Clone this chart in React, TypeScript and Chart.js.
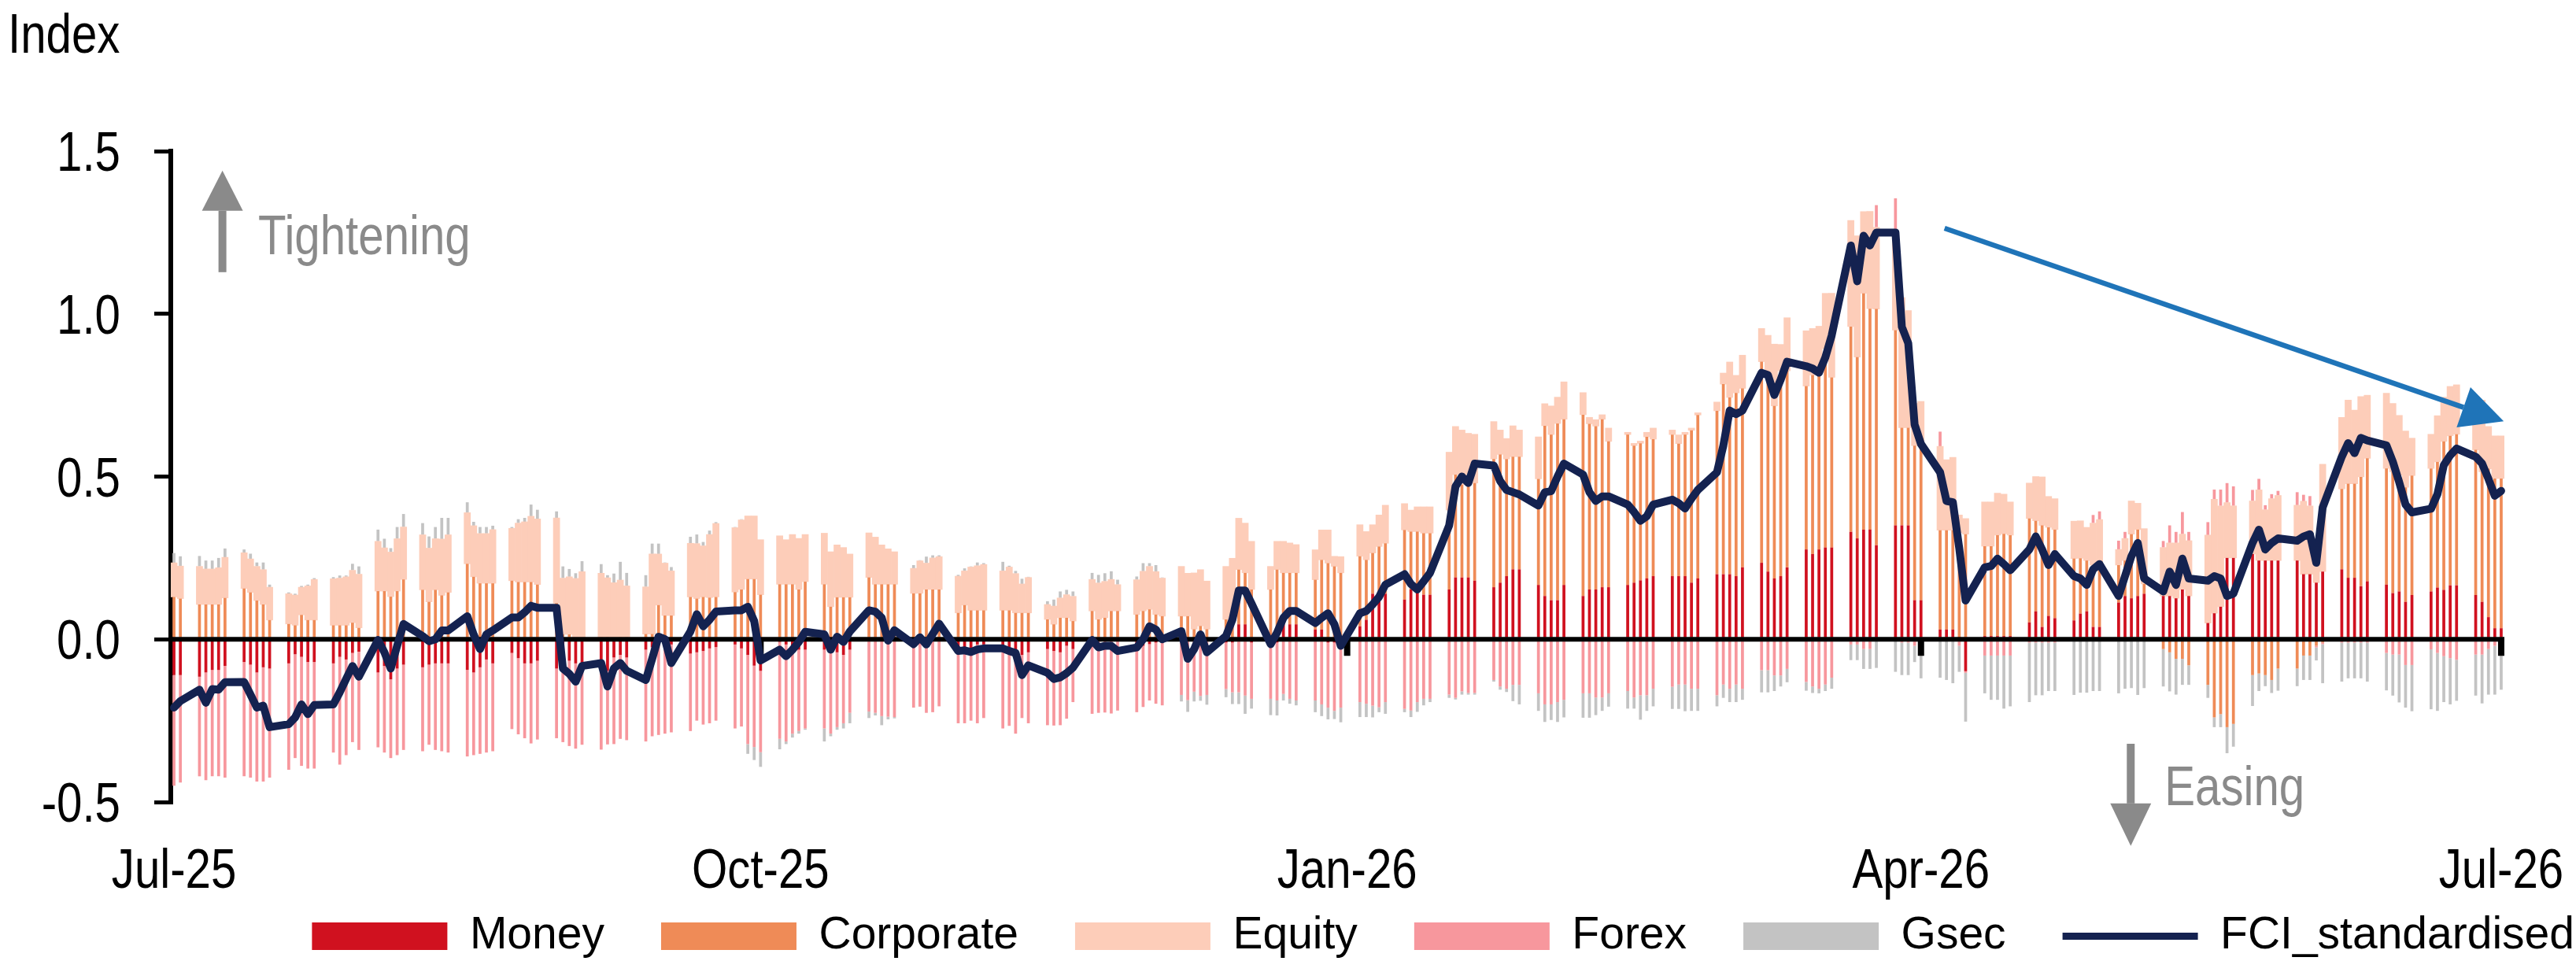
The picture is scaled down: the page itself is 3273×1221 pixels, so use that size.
import React, { useEffect, useRef } from 'react';
import { Chart, registerables } from 'chart.js';

Chart.register(...registerables);

// ---------- categories (calendar days; weekends carry no data) ----------
const START = { year: 2025, month: 6, day: 3 };
const DAY_COUNT = 366;
const TICK_DATES = ['2025-07-03', '2025-10-03', '2026-01-03', '2026-04-03', '2026-07-03'];
const TICK_LABELS = ['Jul-25', 'Oct-25', 'Jan-26', 'Apr-26', 'Jul-26'];
const Y_MIN = -0.5;
const Y_MAX = 1.5;
const Y_STEP = 0.5;

// ---------- series values, one per business day (week by week) ----------
const money = [
  -0.11, -0.11,
  -0.115, -0.102, -0.094, -0.094, -0.082,
  -0.07, -0.078, -0.102, -0.086, -0.09,
  -0.074, -0.046, -0.054, -0.07, -0.07,
  -0.074, -0.054, -0.062, -0.042, -0.038,
  -0.102, -0.082, -0.123, -0.09, -0.078,
  -0.086, -0.078, -0.074, -0.074, -0.074,
  -0.094, -0.102, -0.086, -0.062, -0.074,
  -0.042, -0.058, -0.074, -0.074, -0.066,
  -0.09, -0.074, -0.066, -0.074, -0.09,
  -0.073, -0.097, -0.056, -0.048, -0.056,
  -0.032, -0.024, -0.016, -0.016, -0.016,
  -0.044, -0.04, -0.036, -0.028, -0.024,
  -0.016, -0.028, -0.048, -0.081, -0.097,
  -0.008, -0.016, -0.024, -0.032, -0.032,
  -0.032, -0.036, -0.04, -0.048, -0.032,
  -0.004, -0.004, -0.006, -0.004, -0.005,
  -0.004, -0.005, -0.004, -0.006, -0.004,
  -0.028, -0.032, -0.032, -0.016, -0.016,
  -0.032, -0.032, -0.04, -0.048, -0.04,
  -0.03, -0.036, -0.04, -0.02, -0.03,
  -0.005, -0.006, -0.005, -0.004, -0.005,
  -0.025, -0.02, -0.015, -0.01, -0.01,
  -0.003, -0.004, -0.003, -0.004, -0.003,
  -0.01, -0.01, 0.046, 0.046, -0.01,
  -0.01, -0.01, 0.046, 0.046, 0.046,
  0.03, 0.03, -0.01, -0.01, -0.01,
  0.04, 0.06, 0.14, 0.14, 0.14,
  0.122, 0.153, 0.148, 0.137, 0.137,
  0.153, 0.19, 0.19, 0.19, 0.18,
  0.16, 0.174, 0.194, 0.215, 0.215,
  0.167, 0.133, 0.12, 0.12, 0.167,
  0.133, 0.153, 0.153, 0.16, 0.16,
  0.167, 0.174, 0.181, 0.187, 0.194,
  0.194, 0.194, 0.194, 0.174, 0.187,
  0.2, 0.2, 0.2, 0.194, 0.221,
  0.235, 0.208, 0.187, 0.194, 0.221,
  0.276, 0.262, 0.276, 0.282, 0.282,
  0.33, 0.31, 0.337, 0.337, 0.289,
  0.35, 0.35, 0.35, 0.12, 0.12,
  0.03, 0.03, 0.03, 0.005, -0.098,
  0.01, 0.01, 0.01, 0.01, 0.01,
  0.052, 0.086, 0.038, 0.072, 0.065,
  0.058, 0.079, 0.086, 0.038, 0.038,
  0.113, 0.133, 0.126, 0.133, 0.14,
  0.133, 0.133, 0.126, 0.153, 0.133,
  0.05, 0.08, 0.1, 0.25, 0.25,
  0.262, 0.242, 0.242, 0.242, 0.242,
  0.242, 0.2, 0.2, 0.174, 0.208,
  0.215, 0.189, 0.189, 0.163, 0.178,
  0.168, 0.142, 0.147, 0.115, 0.136,
  0.147, 0.159, 0.152, 0.166, 0.166,
  0.136, 0.115, 0.068, 0.034, 0.034,
];

const corporate = [
  0.13, 0.125,
  0.107, 0.107, 0.107, 0.107, 0.127,
  0.156, 0.144, 0.119, 0.107, 0.059,
  0.047, 0.043, 0.075, 0.059, 0.059,
  0.043, 0.043, 0.043, 0.051, 0.035,
  0.148, 0.148, 0.131, 0.148, 0.184,
  0.152, 0.115, 0.152, 0.135, 0.144,
  0.232, 0.192, 0.172, 0.172, 0.172,
  0.18, 0.176, 0.176, 0.176, 0.168,
  0.111, 0.015, 0.015, 0.006, 0.006,
  0.005, 0.004, 0.006, 0.005, 0.004,
  0.016, 0.016, 0.105, 0.073, 0.073,
  0.13, 0.125, 0.13, 0.128, 0.13,
  0.145, 0.153, 0.185, 0.185, 0.137,
  0.169, 0.169, 0.169, 0.153, 0.177,
  0.169, 0.1, 0.129, 0.129, 0.129,
  0.19, 0.169, 0.169, 0.169, 0.169,
  0.141, 0.141, 0.153, 0.153, 0.153,
  0.081, 0.105, 0.089, 0.089, 0.089,
  0.089, 0.089, 0.081, 0.081, 0.081,
  0.061, 0.046, 0.066, 0.066, 0.056,
  0.087, 0.061, 0.066, 0.087, 0.087,
  0.076, 0.087, 0.092, 0.076, 0.071,
  0.071, 0.071, 0.031, 0.041, 0.031,
  0.061, 0.071, 0.168, 0.158, 0.153,
  0.153, 0.214, 0.158, 0.158, 0.158,
  0.153, 0.214, 0.234, 0.224, 0.204,
  0.215, 0.184, 0.125, 0.145, 0.155,
  0.214, 0.178, 0.183, 0.189, 0.189,
  0.244, 0.316, 0.285, 0.316, 0.3,
  0.394, 0.394, 0.36, 0.346, 0.346,
  0.326, 0.523, 0.509, 0.543, 0.509,
  0.557, 0.509, 0.502, 0.516, 0.448,
  0.462, 0.421, 0.421, 0.435, 0.421,
  0.435, 0.407, 0.435, 0.468, 0.502,
  0.502, 0.584, 0.543, 0.563, 0.55,
  0.618, 0.611, 0.53, 0.631, 0.604,
  0.502, 0.55, 0.55, 0.611, 0.523,
  0.631, 0.557, 0.726, 0.679, 0.726,
  0.6, 0.3, 0.3, 0.475, 0.475,
  0.305, 0.305, 0.305, 0.323, 0.323,
  0.276, 0.276, 0.31, 0.314, 0.31,
  0.319, 0.278, 0.312, 0.272, 0.272,
  0.19, 0.17, 0.156, 0.19, 0.19,
  0.115, 0.109, 0.197, 0.204, 0.03,
  -0.03, -0.04, -0.06, -0.06, -0.08,
  -0.14, -0.24, -0.23, -0.27, -0.26,
  -0.11, -0.105, -0.11, -0.125, -0.09,
  -0.09, -0.05, -0.05, -0.02, -0.01,
  0.247, 0.289, 0.289, 0.336, 0.378,
  0.357, 0.373, 0.357, 0.352, 0.367,
  0.378, 0.386, 0.456, 0.459, 0.464,
  0.446, 0.4, 0.456, 0.46, 0.46,
];

const equity = [
  0.105, 0.1,
  0.117, 0.109, 0.109, 0.113, 0.125,
  0.11, 0.103, 0.105, 0.107, 0.101,
  0.093, 0.093, 0.085, 0.105, 0.125,
  0.143, 0.145, 0.149, 0.161, 0.165,
  0.153, 0.133, 0.137, 0.161, 0.161,
  0.169, 0.165, 0.157, 0.173, 0.177,
  0.157, 0.157, 0.153, 0.153, 0.165,
  0.161, 0.181, 0.185, 0.202, 0.202,
  0.262, 0.173, 0.177, 0.181, 0.202,
  0.198, 0.185, 0.168, 0.177, 0.16,
  0.145, 0.246, 0.157, 0.161, 0.137,
  0.165, 0.169, 0.157, 0.194, 0.226,
  0.198, 0.214, 0.194, 0.194, 0.169,
  0.149, 0.137, 0.153, 0.157, 0.145,
  0.157, 0.169, 0.161, 0.153, 0.133,
  0.137, 0.145, 0.121, 0.109, 0.1,
  0.077, 0.1, 0.081, 0.097, 0.101,
  0.113, 0.105, 0.133, 0.137, 0.141,
  0.121, 0.133, 0.121, 0.089, 0.109,
  0.046, 0.056, 0.061, 0.071, 0.076,
  0.097, 0.112, 0.112, 0.097, 0.081,
  0.107, 0.122, 0.132, 0.132, 0.117,
  0.153, 0.132, 0.173, 0.173, 0.148,
  0.163, 0.178, 0.158, 0.153, 0.148,
  0.071, 0.087, 0.097, 0.092, 0.087,
  0.092, 0.092, 0.102, 0.031, 0.05,
  0.097, 0.087, 0.087, 0.097, 0.117,
  0.081, 0.066, 0.076, 0.081, 0.081,
  0.178, 0.148, 0.168, 0.127, 0.15,
  0.115, 0.075, 0.063, 0.095, 0.082,
  0.129, 0.068, 0.088, 0.081, 0.115,
  0.068, 0.02, 0.02, 0.014, 0.041,
  0.007, 0.007, 0.007, 0.014, 0.034,
  0.014, 0.027, 0.007, 0.007, 0.007,
  0.027, 0.034, 0.109, 0.054, 0.102,
  0.102, 0.115, 0.19, 0.081, 0.163,
  0.17, 0.143, 0.136, 0.17, 0.258,
  0.326, 0.373, 0.251, 0.299, 0.251,
  0.305, 0.4, 0.36, 0.13, 0.136,
  0.258, 0.217, 0.224, 0.054, 0.048,
  0.136, 0.136, 0.129, 0.122, 0.102,
  0.109, 0.136, 0.149, 0.095, 0.095,
  0.115, 0.115, 0.102, 0.129, 0.14,
  0.048, 0.068, 0.102, 0.081, 0.17,
  0.149, 0.163, 0.17, 0.17, 0.17,
  0.27, 0.35, 0.31, 0.17, 0.16,
  0.163, 0.217, 0.156, 0.19, 0.2,
  0.17, 0.224, 0.21, 0.122, 0.33,
  0.22, 0.257, 0.226, 0.247, 0.194,
  0.231, 0.21, 0.184, 0.173, 0.115,
  0.105, 0.142, 0.136, 0.152, 0.152,
  0.15, 0.22, 0.13, 0.131, 0.131,
];

const forex = [
  -0.34, -0.33,
  -0.306, -0.331, -0.327, -0.327, -0.343,
  -0.351, -0.347, -0.335, -0.351, -0.335,
  -0.327, -0.319, -0.335, -0.327, -0.327,
  -0.274, -0.331, -0.294, -0.274, -0.302,
  -0.23, -0.266, -0.242, -0.266, -0.262,
  -0.258, -0.246, -0.266, -0.27, -0.274,
  -0.266, -0.254, -0.266, -0.286, -0.27,
  -0.234, -0.234, -0.23, -0.246, -0.242,
  -0.214, -0.242, -0.262, -0.262, -0.234,
  -0.266, -0.226, -0.266, -0.258, -0.254,
  -0.282, -0.274, -0.278, -0.274, -0.27,
  -0.238, -0.21, -0.226, -0.23, -0.226,
  -0.258, -0.24, -0.274, -0.25, -0.25,
  -0.298, -0.298, -0.266, -0.25, -0.242,
  -0.242, -0.254, -0.23, -0.21, -0.194,
  -0.218, -0.222, -0.23, -0.234, -0.234,
  -0.206, -0.202, -0.222, -0.218, -0.202,
  -0.23, -0.226, -0.218, -0.242, -0.226,
  -0.242, -0.234, -0.25, -0.194, -0.218,
  -0.234, -0.229, -0.224, -0.224, -0.163,
  -0.224, -0.22, -0.22, -0.224, -0.214,
  -0.199, -0.188, -0.173, -0.188, -0.193,
  -0.168, -0.183, -0.158, -0.17, -0.168,
  -0.143, -0.153, -0.163, -0.173, -0.173,
  -0.173, -0.178, -0.168, -0.183, -0.188,
  -0.188, -0.2, -0.2, -0.21, -0.2,
  -0.193, -0.198, -0.204, -0.209, -0.193,
  -0.214, -0.219, -0.193, -0.183, -0.183,
  -0.17, -0.18, -0.16, -0.165, -0.165,
  -0.125, -0.145, -0.152, -0.14, -0.14,
  -0.166, -0.2, -0.2, -0.193, -0.186,
  -0.166, -0.166, -0.179, -0.179, -0.166,
  -0.159, -0.179, -0.172, -0.172, -0.152,
  -0.146, -0.139, -0.139, -0.152, -0.152,
  -0.172, -0.139, -0.152, -0.139, -0.152,
  -0.095, -0.095, -0.111, -0.111, -0.091,
  -0.131, -0.145, -0.152, -0.139, -0.118,
  -0.016, -0.016, -0.03, -0.03, 0.068,
  0.1, -0.01, -0.01, -0.02, -0.02,
  0.045, -0.005, -0.005, -0.02, -0.005,
  -0.05, -0.05, -0.05, -0.05, -0.05,
  -0.01, -0.01, -0.01, -0.01, -0.01,
  -0.005, -0.005, -0.005, 0.025, 0.025,
  0.027, 0.02, -0.005, -0.005, -0.005,
  0.02, 0.054, 0.034, 0.068, 0.027,
  0.04, 0.03, 0.05, 0.06, 0.06,
  0.034, 0.034, 0.014, 0.014, 0.014,
  0.04, 0.02, 0.03, -0.005, -0.005,
  -0.01, -0.01, -0.01, -0.01, -0.01,
  -0.042, -0.047, -0.047, -0.079, -0.079,
  -0.031, -0.042, -0.052, -0.058, -0.063,
  -0.047, -0.047, -0.03, -0.02, -0.02,
];

const gsec = [
  0.03, 0.03,
  0.032, 0.026, 0.026, 0.03, 0.027,
  0.01, 0.016, 0.012, 0.022, 0.008,
  0.004, 0.004, 0.004, 0.004, 0.004,
  0.005, 0.008, 0.004, 0.02, 0.024,
  0.036, 0.028, 0.012, 0.036, 0.04,
  0.036, 0.036, 0.036, 0.065, 0.052,
  0.032, 0.012, 0.02, 0.02, 0.012,
  0.004, 0.012, 0.012, 0.036, 0.028,
  0.02, 0.036, 0.024, 0.016, 0.032,
  0.028, 0.008, 0.028, 0.056, 0.04,
  0.036, 0.032, 0.032, 0.002, 0.012,
  0.02, 0.028, 0.012, 0.012, 0.004,
  0.002, 0.002, -0.03, -0.04, -0.045,
  -0.032, -0.008, -0.012, -0.008, -0.004,
  -0.04, -0.008, -0.008, -0.016, -0.032,
  -0.02, -0.008, -0.028, -0.008, -0.004,
  0.01, 0.002, 0.02, 0.008, 0.004,
  0.004, 0.008, 0.002, 0.01, 0.004,
  0.028, 0.004, 0.008, 0.016, 0.002,
  0.01, 0.02, 0.02, 0.015, 0.015,
  0.02, 0.025, 0.025, 0.025, 0.015,
  0.01, 0.025, 0.01, 0.02, 0.002,
  -0.02, -0.036, -0.03, -0.015, -0.03,
  -0.025, -0.036, -0.036, -0.056, -0.03,
  -0.05, -0.046, -0.02, -0.015, -0.015,
  -0.036, -0.036, -0.036, -0.025, -0.045,
  -0.046, -0.041, -0.036, -0.015, -0.036,
  -0.01, -0.02, -0.03, -0.02, -0.01,
  -0.01, -0.005, -0.01, -0.005, -0.005,
  -0.005, -0.01, -0.01, -0.05, -0.06,
  -0.054, -0.054, -0.048, -0.061, -0.054,
  -0.075, -0.075, -0.054, -0.041, -0.041,
  -0.054, -0.034, -0.075, -0.048, -0.054,
  -0.068, -0.075, -0.082, -0.068, -0.068,
  -0.034, -0.041, -0.041, -0.054, -0.034,
  -0.068, -0.068, -0.048, -0.034, -0.041,
  -0.027, -0.02, -0.014, -0.02, -0.034,
  -0.048, -0.048, -0.061, -0.061, -0.088,
  -0.1, -0.1, -0.1, -0.05, -0.1,
  -0.118, -0.12, -0.13, -0.08, -0.15,
  -0.116, -0.136, -0.136, -0.163, -0.156,
  -0.183, -0.162, -0.162, -0.149, -0.149,
  -0.166, -0.159, -0.159, -0.159, -0.159,
  -0.166, -0.152, -0.145, -0.166, -0.145,
  -0.115, -0.12, -0.11, -0.08, -0.06,
  -0.04, -0.03, -0.04, -0.08, -0.07,
  -0.095, -0.054, -0.034, -0.04, -0.068,
  -0.054, -0.075, -0.075, -0.04, -0.12,
  -0.12, -0.11, -0.11, -0.11, -0.12,
  -0.115, -0.126, -0.147, -0.131, -0.142,
  -0.184, -0.178, -0.141, -0.142, -0.126,
  -0.126, -0.15, -0.14, -0.15, -0.135,
];

const fciStandardised = [
  -0.21, -0.19,
  -0.155, -0.195, -0.153, -0.155, -0.132,
  -0.131, -0.17, -0.21, -0.204, -0.27,
  -0.261, -0.24, -0.2, -0.23, -0.202,
  -0.2, -0.163, -0.122, -0.082, -0.115,
  -0.002, -0.04, -0.09, -0.02, 0.047,
  0.01, -0.006, 0.0, 0.027, 0.027,
  0.071, 0.015, -0.03, 0.015, 0.027,
  0.067, 0.067, 0.083, 0.103, 0.097,
  0.097, -0.09, -0.106, -0.13, -0.082,
  -0.073, -0.145, -0.089, -0.073, -0.097,
  -0.125, -0.06, 0.008, 0.0, -0.073,
  0.024, 0.077, 0.04, 0.06, 0.085,
  0.089, 0.089, 0.1, 0.056, -0.065,
  -0.032, -0.052, -0.032, -0.008, 0.023,
  0.015, -0.032, 0.008, -0.008, 0.024,
  0.089, 0.085, 0.066, -0.004, 0.028,
  -0.015, 0.006, -0.016, 0.016, 0.048,
  -0.036, -0.034, -0.039, -0.031, -0.028,
  -0.028, -0.036, -0.042, -0.11, -0.08,
  -0.103, -0.122, -0.117, -0.104, -0.087,
  -0.002, -0.025, -0.02, -0.02, -0.036,
  -0.025, 0.0, 0.04, 0.03, 0.0,
  0.025, -0.06, -0.03, 0.015, -0.04,
  0.01, 0.06, 0.15, 0.15, 0.11,
  -0.015, 0.02, 0.066, 0.087, 0.087,
  0.05, 0.066, 0.08, 0.046, -0.02,
  0.08, 0.087, 0.107, 0.13, 0.168,
  0.2, 0.17, 0.153, 0.178, 0.204,
  0.35, 0.47, 0.5, 0.48, 0.54,
  0.534, 0.486, 0.459, 0.452, 0.445,
  0.411, 0.452, 0.455, 0.5, 0.54,
  0.506, 0.452, 0.425, 0.439, 0.439,
  0.414, 0.391, 0.364, 0.378, 0.414,
  0.429, 0.418, 0.402, 0.432, 0.459,
  0.513, 0.595, 0.703, 0.692, 0.703,
  0.819, 0.812, 0.751, 0.798, 0.853,
  0.839, 0.832, 0.819, 0.866, 0.934,
  1.21, 1.1, 1.24, 1.21, 1.25,
  1.25, 0.96, 0.91, 0.66, 0.6,
  0.513, 0.425, 0.421, 0.28, 0.119,
  0.221, 0.225, 0.248, 0.231, 0.212,
  0.276, 0.316, 0.276, 0.228, 0.262,
  0.194, 0.187, 0.167, 0.215, 0.231,
  0.133, 0.194, 0.255, 0.296, 0.187,
  0.147, 0.208, 0.167, 0.248, 0.187,
  0.18, 0.194, 0.187, 0.133, 0.14,
  0.296, 0.337, 0.276, 0.296, 0.31,
  0.303, 0.316, 0.323, 0.235, 0.405,
  0.561, 0.603, 0.572, 0.619, 0.611,
  0.596, 0.546, 0.483, 0.414, 0.39,
  0.401, 0.446, 0.535, 0.565, 0.586,
  0.561, 0.54, 0.493, 0.441, 0.456,
];

// ---------- annotations (anchored in data coordinates: [category index, value]) ----------
const TREND_ARROW = { from: [277.7, 1.263], to: [365.4, 0.67] };
const TIGHTENING_ARROW = { x: 7.6, from: 1.128, to: 1.44 };
const EASING_ARROW = { x: 306.9, from: -0.321, to: -0.635 };
const TIGHTENING_LABEL = { text: 'Tightening', x: 13.2, y: 1.183 };
const EASING_LABEL = { text: 'Easing', x: 312.2, y: -0.51 };
const AXIS_TITLE = 'Index';

const COLORS = {
  money: '#D0111F',
  corporate: '#EF8B57',
  equity: '#FDCDB9',
  forex: '#F7979D',
  gsec: '#C3C3C3',
  fci: '#142250',
  trend: '#1F74B8',
  note: '#8A8A8A',
};

const BASE_FONT = '"Liberation Sans", Arial, Helvetica, sans-serif';

function detectNarrow() {
  try {
    const c = document.createElement('canvas').getContext('2d');
    if (!c) return { family: BASE_FONT, sx: 0.82 };
    const probe = 'Tightening Jul-25 Index';
    c.font = '72px "Liberation Sans Narrow", monospace';
    const a = c.measureText(probe).width;
    c.font = '72px monospace';
    const b = c.measureText(probe).width;
    if (Math.abs(a - b) > 1) return { family: '"Liberation Sans Narrow", ' + BASE_FONT, sx: 1 };
  } catch (e) {
    /* ignore */
  }
  return { family: BASE_FONT, sx: 0.82 };
}

function buildDays() {
  const days: string[] = [];
  const weekday: boolean[] = [];
  for (let i = 0; i < DAY_COUNT; i++) {
    const d = new Date(Date.UTC(START.year, START.month, START.day + i));
    days.push(d.toISOString().slice(0, 10));
    const wd = d.getUTCDay();
    weekday.push(wd !== 0 && wd !== 6);
  }
  return { days, weekday };
}

function spread(values: number[], weekday: boolean[]) {
  let k = 0;
  return weekday.map((w) => (w && k < values.length ? values[k++] : null));
}

export default function App() {
  const canvasRef = useRef<HTMLCanvasElement | null>(null);

  useEffect(() => {
    const canvas = canvasRef.current;
    if (!canvas) return;
    const narrow = detectNarrow();
    const { days, weekday } = buildDays();
    const tickIndex = TICK_DATES.map((d) => days.indexOf(d));
    const LINE_INDEX = 5;

    const drawNarrow = (ctx: any, text: string, x: number, y: number, align: string, color: string, size: number) => {
      ctx.save();
      ctx.font = `${size}px ${narrow.family}`;
      ctx.fillStyle = color;
      ctx.textAlign = align;
      ctx.textBaseline = 'alphabetic';
      ctx.translate(x, y);
      ctx.scale(narrow.sx, 1);
      ctx.fillText(text, 0, 0);
      ctx.restore();
    };

    const drawArrow = (ctx: any, x1: number, y1: number, x2: number, y2: number, color: string, width: number, headLen: number, headHalf: number) => {
      const ang = Math.atan2(y2 - y1, x2 - x1);
      const bx = x2 - headLen * Math.cos(ang);
      const by = y2 - headLen * Math.sin(ang);
      ctx.save();
      ctx.strokeStyle = color;
      ctx.fillStyle = color;
      ctx.lineWidth = width;
      ctx.lineCap = 'butt';
      ctx.beginPath();
      ctx.moveTo(x1, y1);
      ctx.lineTo(bx, by);
      ctx.stroke();
      ctx.beginPath();
      ctx.moveTo(x2, y2);
      ctx.lineTo(bx + headHalf * Math.sin(ang), by - headHalf * Math.cos(ang));
      ctx.lineTo(bx - headHalf * Math.sin(ang), by + headHalf * Math.cos(ang));
      ctx.closePath();
      ctx.fill();
      ctx.restore();
    };

    const overlay = {
      id: 'fciOverlay',
      beforeDatasetDraw(chart: any, args: any) {
        if (args.index !== LINE_INDEX) return;
        const { ctx, chartArea, scales } = chart;
        const y0 = scales.y.getPixelForValue(0);
        ctx.save();
        ctx.strokeStyle = '#000';
        ctx.lineWidth = 6;
        ctx.beginPath();
        ctx.moveTo(chartArea.left, y0);
        ctx.lineTo(chartArea.right, y0);
        ctx.stroke();
        ctx.fillStyle = '#000';
        tickIndex.forEach((idx, i) => {
          if (i === 0 || idx < 0) return;
          const px = scales.x.getPixelForValue(idx);
          ctx.fillRect(px - 4, y0, 8, 21);
        });
        ctx.restore();
      },
      afterDraw(chart: any) {
        const { ctx, chartArea, scales } = chart;
        const xs = scales.x;
        const ys = scales.y;
        ys.ticks.forEach((t: any) => {
          const py = ys.getPixelForValue(t.value);
          drawNarrow(ctx, Number(t.value).toFixed(1), chartArea.left - 64, py + 25, 'right', '#000', 71);
        });
        tickIndex.forEach((idx, i) => {
          if (idx < 0) return;
          drawNarrow(ctx, TICK_LABELS[i], xs.getPixelForValue(idx), chartArea.bottom + 109, 'center', '#000', 71);
        });
        drawNarrow(ctx, AXIS_TITLE, 10, 67, 'left', '#000', 71);
        const tx = xs.getPixelForValue(TIGHTENING_ARROW.x);
        drawArrow(ctx, tx, ys.getPixelForValue(TIGHTENING_ARROW.from), tx, ys.getPixelForValue(TIGHTENING_ARROW.to), COLORS.note, 10, 51, 26);
        drawNarrow(ctx, TIGHTENING_LABEL.text, xs.getPixelForValue(TIGHTENING_LABEL.x), ys.getPixelForValue(TIGHTENING_LABEL.y), 'left', COLORS.note, 71);
        const ex = xs.getPixelForValue(EASING_ARROW.x);
        drawArrow(ctx, ex, ys.getPixelForValue(EASING_ARROW.from), ex, ys.getPixelForValue(EASING_ARROW.to), COLORS.note, 10, 54, 26);
        drawNarrow(ctx, EASING_LABEL.text, xs.getPixelForValue(EASING_LABEL.x), ys.getPixelForValue(EASING_LABEL.y), 'left', COLORS.note, 71);
        drawArrow(
          ctx,
          xs.getPixelForValue(TREND_ARROW.from[0]), ys.getPixelForValue(TREND_ARROW.from[1]),
          xs.getPixelForValue(TREND_ARROW.to[0]), ys.getPixelForValue(TREND_ARROW.to[1]),
          COLORS.trend, 6.5, 54, 27,
        );
      },
    };

    const thin = { barPercentage: 0.46, categoryPercentage: 1, borderWidth: 0, order: 1, pointStyle: 'rect' };

    const chart = new Chart(canvas, {
      type: 'bar',
      data: {
        labels: days,
        datasets: [
          { label: 'Money', data: spread(money, weekday), backgroundColor: COLORS.money, ...thin },
          { label: 'Corporate', data: spread(corporate, weekday), backgroundColor: COLORS.corporate, ...thin },
          { label: 'Equity', data: spread(equity, weekday), backgroundColor: COLORS.equity, ...thin, barPercentage: 1 },
          { label: 'Forex', data: spread(forex, weekday), backgroundColor: COLORS.forex, ...thin },
          { label: 'Gsec', data: spread(gsec, weekday), backgroundColor: COLORS.gsec, ...thin },
          {
            type: 'line',
            label: 'FCI_standardised',
            data: spread(fciStandardised, weekday),
            borderColor: COLORS.fci,
            backgroundColor: COLORS.fci,
            borderWidth: 10,
            pointRadius: 0,
            pointHoverRadius: 0,
            spanGaps: true,
            tension: 0,
            borderJoinStyle: 'round',
            borderCapStyle: 'round',
            order: 0,
            pointStyle: 'line',
          },
        ],
      } as any,
      options: {
        responsive: false,
        animation: false,
        devicePixelRatio: 1,
        events: [],
        font: { family: BASE_FONT },
        layout: { padding: { left: 0, top: 192, right: -70, bottom: -7 } },
        plugins: {
          legend: {
            position: 'bottom',
            align: 'end',
            labels: {
              color: '#000',
              font: { family: BASE_FONT, size: 57 },
              usePointStyle: true,
              pointStyleWidth: 172,
              boxHeight: 35,
              padding: 72,
              sort: (a: any, b: any) => a.datasetIndex - b.datasetIndex,
              generateLabels: (c: any) => {
                const base = (Chart.defaults as any).plugins.legend.labels.generateLabels(c);
                return base.map((it: any) => ({
                  ...it,
                  pointStyle: it.datasetIndex === LINE_INDEX ? 'line' : 'rect',
                  lineWidth: it.datasetIndex === LINE_INDEX ? 9 : 0,
                  strokeStyle: it.datasetIndex === LINE_INDEX ? COLORS.fci : it.fillStyle,
                }));
              },
            },
          },
          tooltip: { enabled: false },
        },
        scales: {
          x: {
            stacked: true,
            grid: { display: false },
            border: { display: false },
            ticks: { display: false },
            afterFit: (s: any) => { s.height = 70; },
          },
          y: {
            stacked: true,
            min: Y_MIN,
            max: Y_MAX,
            ticks: { display: false, stepSize: Y_STEP },
            grid: { display: true, drawOnChartArea: false, drawTicks: true, tickLength: 21, color: '#000', lineWidth: 5 },
            border: { display: true, color: '#000', width: 6 },
            afterFit: (s: any) => { s.width = 217; },
          },
          yRightSpacer: {
            position: 'right',
            min: 0,
            max: 1,
            grid: { display: false },
            border: { display: false },
            ticks: { display: false },
            afterFit: (s: any) => { s.width = 161; },
          },
        },
      } as any,
      plugins: [overlay],
    });

    return () => chart.destroy();
  }, []);

  return (
    <div style={{ position: 'fixed', left: 0, top: 0, width: 3273, height: 1221, overflow: 'hidden', background: '#fff' }}>
      <canvas ref={canvasRef} width={3273} height={1221} style={{ display: 'block', width: 3273, height: 1221 }} />
    </div>
  );
}
